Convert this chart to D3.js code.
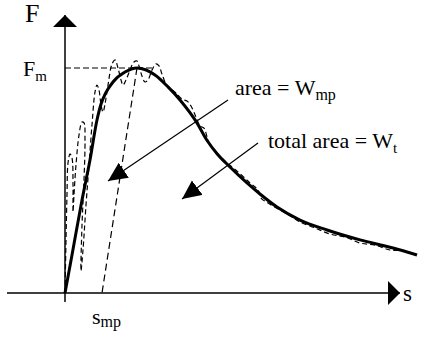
<!DOCTYPE html>
<html><head><meta charset="utf-8">
<script src="https://cdn.jsdelivr.net/npm/d3@7"></script>
<style>html,body{margin:0;padding:0;background:#fff;} text{font-family:"Liberation Serif","Times New Roman",serif;fill:#000;}</style>
</head><body><div id="chart"></div>
<script>
// Smoothed force-displacement curve (s, F) in % of F_m scale
const curveS = [0,2.0,4.86,7.14,9.14,10.3,11.6,13.71,17.14,20.57,25.71,29.43,32.86,37.71,40.5,43.5,47.14,52.0,55.71,60.57,67.14,74.86,84.29,93.71,100.57];
const curveF = [0,16.9,41.3,59.1,76.9,84.0,88.8,93.8,98.2,100,96.9,91.6,85.8,75.6,68.0,61.8,56.0,48.9,44.0,38.2,32.4,28.0,23.6,20.0,16.9];
// Raw measured (noisy) trace
const rawS = [0,0.29,0.57,0.86,1.43,2.0,2.29,2.29,2.57,3.14,4.0,4.86,5.43,5.71,5.43,4.86,4.57,5.14,6.0,6.86,7.71,8.57,9.14,9.71,10.29,10.86,11.43,12.29,13.43,14.29,15.14,16.0,16.57,17.43,18.57,19.71,20.57,21.14,22.0,22.86,23.71,24.86,26.0,26.86,27.71,28.86,30.0,31.71,33.43,34.86,36.0,37.43,38.57,39.71,41.14,43.14,46.0,49.43,52.86,55.14,56.0,58.0,61.43,64.86,67.14,71.43,75.71,80.0,84.29,88.57,92.86,97.14,100.57];
const rawF = [0,23.6,43.6,57.8,61.8,60.0,48.0,36.0,43.6,56.9,70.2,76.0,75.6,68.0,50.2,30.2,9.8,19.1,39.1,56.9,74.7,89.3,92.4,90.2,83.6,80.4,84.0,92.4,101.8,103.6,100.0,94.7,92.4,94.7,99.1,102.7,103.1,100.9,96.4,93.8,94.7,99.1,101.8,100.9,97.3,92.9,91.1,88.9,86.2,85.3,83.1,78.2,74.2,73.3,66.7,62.7,58.2,53.8,48.9,45.8,42.2,40.0,36.9,33.8,31.6,28.9,26.2,24.9,22.2,21.3,19.1,18.7,16.9];
// Key values
const Fm = 100;
const sPeak = 20.57;
const sMp = 10.57;
const fmLineEnd = 25.7;
// Annotation arrows: [sFrom, FFrom, sTo, FTo]
const arrowAreaMp = [46.57, 85.8, 12.29, 49.8];
const arrowTotal = [55.14, 66.7, 33.43, 41.8];

const W = 427, H = 337;
const x = d3.scaleLinear().domain([0, 100]).range([65, 415]);
const y = d3.scaleLinear().domain([0, 100]).range([293, 68]);

const svg = d3.select("#chart").append("svg").attr("width", W).attr("height", H);
svg.append("rect").attr("width", W).attr("height", H).attr("fill", "#fff");

const defs = svg.append("defs");
defs.append("marker").attr("id","axisHead").attr("markerUnits","userSpaceOnUse")
  .attr("markerWidth",14).attr("markerHeight",26).attr("refX",12).attr("refY",12)
  .attr("orient","auto").attr("viewBox","0 0 14 26")
  .append("path").attr("d","M0,0 L12,12 L0,24 Z").attr("fill","#000");
defs.append("marker").attr("id","annHead").attr("markerUnits","userSpaceOnUse")
  .attr("markerWidth",22).attr("markerHeight",20).attr("refX",19).attr("refY",9)
  .attr("orient","auto").attr("viewBox","0 0 22 20")
  .append("path").attr("d","M0,0 L19,9 L0,18 Z").attr("fill","#000");

// Axes
svg.append("line").attr("x1", x(0)).attr("x2", x(0)).attr("y1", y(0) + 9).attr("y2", 15)
  .attr("stroke","#000").attr("stroke-width",1.5).attr("marker-end","url(#axisHead)");
svg.append("line").attr("x1", 7).attr("x2", 400).attr("y1", y(0)).attr("y2", y(0))
  .attr("stroke","#000").attr("stroke-width",1.5).attr("marker-end","url(#axisHead)");

// F_m dashed level
svg.append("line").attr("x1", x(0)).attr("x2", x(fmLineEnd)).attr("y1", y(Fm)).attr("y2", y(Fm))
  .attr("stroke","#000").attr("stroke-width",1.2).attr("stroke-dasharray","6,3");
// Unloading line
svg.append("line").attr("x1", x(sPeak)).attr("x2", x(sMp)).attr("y1", y(Fm)).attr("y2", y(0))
  .attr("stroke","#000").attr("stroke-width",1.2).attr("stroke-dasharray","7,4");

// Raw trace
const rawPts = rawS.map((s,i)=>[s, rawF[i]]);
svg.append("path").datum(rawPts)
  .attr("d", d3.line().x(d=>x(d[0])).y(d=>y(d[1])).curve(d3.curveCatmullRom.alpha(0.5)))
  .attr("fill","none").attr("stroke","#000").attr("stroke-width",1.2).attr("stroke-dasharray","5,3");

// Smooth curve
const curvePts = curveS.map((s,i)=>[s, curveF[i]]);
svg.append("path").datum(curvePts)
  .attr("d", d3.line().x(d=>x(d[0])).y(d=>y(d[1])).curve(d3.curveMonotoneX))
  .attr("fill","none").attr("stroke","#000").attr("stroke-width",3).attr("stroke-linejoin","round");

// Annotation arrows
[arrowAreaMp, arrowTotal].forEach(a => {
  svg.append("line").attr("x1", x(a[0])).attr("y1", y(a[1])).attr("x2", x(a[2])).attr("y2", y(a[3]))
    .attr("stroke","#000").attr("stroke-width",1.2).attr("marker-end","url(#annHead)");
});

// Labels
function label(px, py, main, sub, size, subSize, dy) {
  const t = svg.append("text").attr("x", px).attr("y", py).attr("font-size", size);
  t.append("tspan").text(main);
  if (sub) t.append("tspan").attr("font-size", subSize).attr("dy", dy).text(sub);
  return t;
}
label(25, 22, "F", null, 26);
label(23, 76, "F", "m", 22, 15, 5);
label(235, 95, "area = W", "mp", 22, 16, 5);
label(268, 148, "total area = W", "t", 22, 15, 5);
label(403, 301, "s", null, 23);
label(92, 324, "s", "mp", 22, 16, 3);
</script></body></html>
